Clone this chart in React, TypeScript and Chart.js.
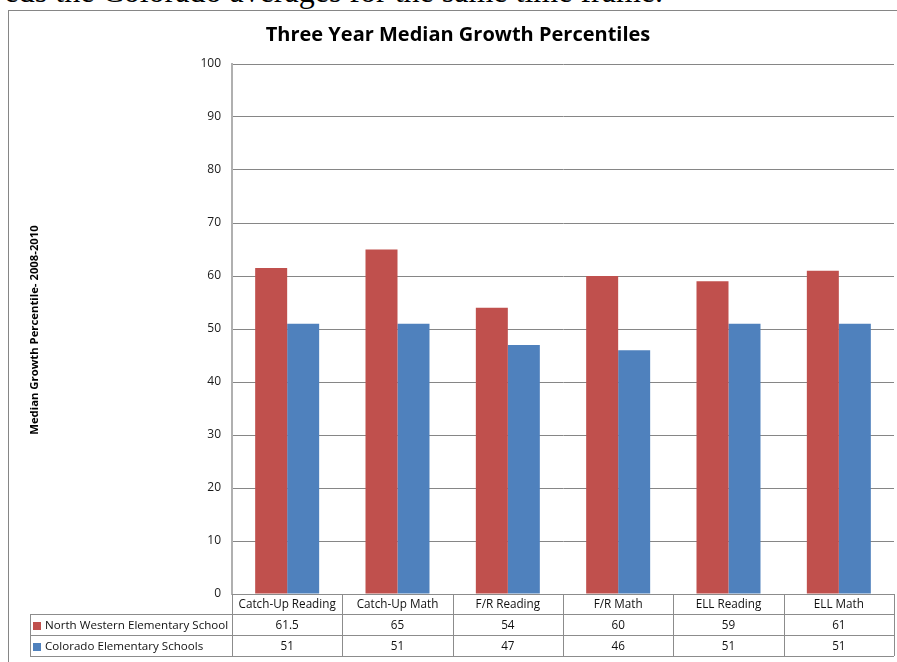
import React, { useEffect, useRef } from 'react';
import { Chart, registerables } from 'chart.js';

Chart.register(...registerables);

const categories = ['Catch-Up Reading', 'Catch-Up Math', 'F/R Reading', 'F/R Math', 'ELL Reading', 'ELL Math'];
const seriesNames = ['North Western Elementary School', 'Colorado Elementary Schools'];
const northWestern = [61.5, 65, 54, 60, 59, 61];
const colorado = [51, 51, 47, 46, 51, 51];
const seriesColors = ['#C0504D', '#4F81BD'];
const chartTitle = 'Three Year Median Growth Percentiles';
const yAxisTitle = 'Median Growth Percentile- 2008-2010';
const yMin = 0;
const yMax = 100;
const yStep = 10;
const pageText = 'eds the Colorado averages for the same time frame.';

export default function App() {
  const ref = useRef<HTMLCanvasElement>(null);

  useEffect(() => {
    const series = [northWestern, colorado];
    const tablePlugin = {
      id: 'dataTable',
      afterDraw(chart: any) {
        const { ctx, chartArea } = chart;
        const x = chart.scales.x;
        const n = categories.length;
        const cw = x.getPixelForValue(1) - x.getPixelForValue(0);
        const left0 = x.getPixelForValue(0) - cw / 2;
        const right = left0 + cw * n;
        const yTop = chartArea.bottom;
        const r1 = yTop + 20;
        const r2 = r1 + 21;
        const r3 = r2 + 21;
        const legendLeft = 30;

        ctx.save();
        ctx.strokeStyle = '#8c8c8c';
        ctx.lineWidth = 1;
        ctx.beginPath();
        ctx.moveTo(left0, Math.round(yTop) + 0.5);
        ctx.lineTo(right, Math.round(yTop) + 0.5);
        for (const ry of [r1, r2, r3]) {
          ctx.moveTo(legendLeft, Math.round(ry) + 0.5);
          ctx.lineTo(right, Math.round(ry) + 0.5);
        }
        for (let i = 0; i <= n; i++) {
          const vx = Math.round(left0 + cw * i) + 0.5;
          ctx.moveTo(vx, yTop);
          ctx.lineTo(vx, r3);
        }
        ctx.moveTo(legendLeft + 0.5, r1);
        ctx.lineTo(legendLeft + 0.5, r3);
        ctx.stroke();

        ctx.fillStyle = '#111';
        ctx.font = '11.7px "Open Sans"';
        ctx.textAlign = 'center';
        ctx.textBaseline = 'middle';
        const rowCenters = [(yTop + r1) / 2 + 1, (r1 + r2) / 2 + 1, (r2 + r3) / 2 + 1];
        categories.forEach((c, i) => {
          const cx = x.getPixelForValue(i);
          ctx.fillText(c, cx, rowCenters[0]);
          series.forEach((s, k) => {
            ctx.fillText(String(s[i]), cx, rowCenters[k + 1]);
          });
        });
        ctx.textAlign = 'left';
        ctx.font = '11.6px "Open Sans"';
        seriesNames.forEach((name, k) => {
          const cy = rowCenters[k + 1];
          ctx.fillStyle = seriesColors[k];
          ctx.fillRect(legendLeft + 3, Math.round(cy - 4), 8, 8);
          ctx.fillStyle = '#111';
          ctx.fillText(name, legendLeft + 15, cy);
        });

        // chart title
        ctx.fillStyle = '#000';
        ctx.textAlign = 'center';
        ctx.font = 'bold 20px "Open Sans"';
        ctx.fillText(chartTitle, 458, 35);

        // y axis title
        ctx.translate(35, 330);
        ctx.rotate(-Math.PI / 2);
        ctx.font = 'bold 11.3px "Open Sans"';
        ctx.fillText(yAxisTitle, 0, 0);
        ctx.restore();
      },
    };

    const chart = new Chart(ref.current as HTMLCanvasElement, {
      type: 'bar',
      data: {
        labels: categories,
        datasets: [
          { label: seriesNames[0], data: northWestern, backgroundColor: seriesColors[0], borderWidth: 0 },
          { label: seriesNames[1], data: colorado, backgroundColor: seriesColors[1], borderWidth: 0 },
        ],
      },
      options: {
        responsive: false,
        animation: false,
        layout: { padding: { left: 0, right: 3, top: 64, bottom: 0 } },
        plugins: {
          legend: { display: false },
          tooltip: { enabled: false },
          title: { display: false },
        },
        datasets: { bar: { barPercentage: 1, categoryPercentage: 0.58 } },
        scales: {
          x: {
            grid: { display: false },
            border: { display: true, color: '#8c8c8c' },
            ticks: { display: false },
            afterFit: (s: any) => {
              s.height = 68;
            },
          },
          y: {
            min: yMin,
            max: yMax,
            ticks: {
              stepSize: yStep,
              padding: 11,
              color: '#1a1a1a',
              font: { family: 'Open Sans', size: 12 },
            },
            grid: { color: '#868686', drawTicks: false },
            border: { color: '#b0b0b0', width: 2 },
            afterFit: (s: any) => {
              s.width = 232;
            },
          },
        },
      } as any,
      plugins: [tablePlugin],
    });
    return () => chart.destroy();
  }, []);

  return (
    <div
      style={{
        position: 'fixed',
        left: 0,
        top: 0,
        width: 897,
        height: 662,
        overflow: 'hidden',
        background: '#fff',
      }}
    >
      <div
        style={{
          position: 'absolute',
          right: 234,
          top: -25,
          fontFamily: '"Liberation Serif", serif',
          fontSize: 32,
          lineHeight: '32px',
          whiteSpace: 'nowrap',
          color: '#000',
        }}
      >
        {pageText}
      </div>
      <div
        style={{
          position: 'absolute',
          left: 8,
          top: 10,
          width: 1000,
          height: 1000,
          border: '1px solid #868686',
        }}
      />
      <canvas
        ref={ref}
        width={897}
        height={662}
        style={{ position: 'absolute', left: 0, top: 0, display: 'block' }}
      />
    </div>
  );
}
